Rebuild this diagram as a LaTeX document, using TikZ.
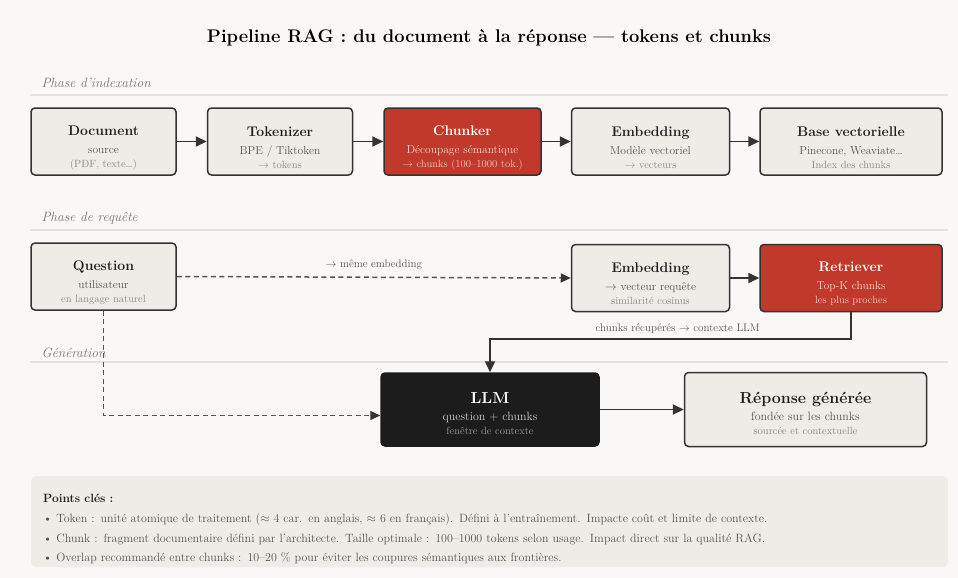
\documentclass[tikz,border=0pt]{standalone}
\usepackage{fontspec}
\usepackage{xcolor}
\usetikzlibrary{positioning,arrows.meta}
\definecolor{panelbg}{HTML}{F9F8F6}
\definecolor{boxfill}{HTML}{EFECE8}
\definecolor{boxline}{HTML}{333333}
\definecolor{ragred}{HTML}{C0392B}
\definecolor{llmblack}{HTML}{1C1C1C}
\definecolor{inkdark}{HTML}{1F1F1F}
\definecolor{subgray}{HTML}{555555}
\definecolor{faintgray}{HTML}{8A8A8A}
\definecolor{redsub}{HTML}{F6D5D0}
\definecolor{redfaint}{HTML}{F0C2BC}
\definecolor{llmsub}{HTML}{CFCFCF}
\definecolor{llmfaint}{HTML}{9A9A9A}
\definecolor{rulegray}{HTML}{E6E3DF}
\definecolor{phasegray}{HTML}{777777}
\newcommand{\boxlabel}[5]{{\bfseries\fontsize{14}{16}\selectfont\rule{0pt}{22pt}#1}\\[6pt]%
  {\color{#4}\fontsize{11.5}{13}\selectfont #2}\\[2pt]%
  {\color{#5}\fontsize{10.5}{12}\selectfont #3}}
\newcommand{\genlabel}[5]{{\bfseries\fontsize{16}{18}\selectfont\rule{0pt}{20pt}#1}\\[5pt]%
  {\color{#4}\fontsize{12}{14}\selectfont #2}\\[2pt]%
  {\color{#5}\fontsize{10.5}{12}\selectfont #3}}

\begin{document}
\begin{tikzpicture}[x=1pt,y=-1pt,
    stagebox/.style={rectangle, rounded corners=4pt, draw=boxline, fill=boxfill, line width=1.5pt,
      minimum height=67pt, align=center, inner sep=1pt, text=inkdark},
    hotbox/.style={stagebox, fill=ragred, text=white},
    llmbox/.style={stagebox, fill=llmblack, draw=llmblack, text=white},
    phase/.style={anchor=west, font=\itshape\fontsize{13.5}{15}\selectfont, text=phasegray},
    flow/.style={draw=boxline, line width=1.8pt, -{Triangle[length=11pt,width=10pt]}},
    dashflow/.style={draw=subgray, line width=1.5pt, dash pattern=on 5pt off 3.5pt, -{Triangle[length=10pt,width=9pt,color=boxline]}},
    edgelabel/.style={font=\fontsize{11}{13}\selectfont, text=subgray},
    ]
    \useasboundingbox (0,0) rectangle (958,578);
    \fill[panelbg] (0,0) rectangle (958,578);

    %Title
    \node (title) at (489,38) {\bfseries\fontsize{18.3}{21}\selectfont Pipeline RAG : du document à la réponse — tokens et chunks};

    %Phases
    \node[phase] (ph1) at (38,83) {Phase d'indexation};
    \node[phase] (ph2) at (38,218) {Phase de requête};
    \node[phase] (ph3) at (38,353) {Génération};
    \draw[rulegray, line width=1.5pt] (30,95) -- (948,95);
    \draw[rulegray, line width=1.5pt] (30,230) -- (948,230);
    \draw[rulegray, line width=1.5pt] (30,362) -- (948,362);

    %Nodes
    \node[stagebox, minimum width=145pt] (doc) at (103.5,141.5)
      {\boxlabel{Document}{source}{(PDF, texte…)}{subgray}{faintgray}};
    \node[stagebox, minimum width=145pt] (tok) [right=30pt of doc]
      {\boxlabel{Tokenizer}{BPE / Tiktoken}{$\rightarrow$ tokens}{subgray}{faintgray}};
    \node[hotbox, minimum width=157pt] (chunk) [right=30pt of tok]
      {\boxlabel{Chunker}{Découpage sémantique}{$\rightarrow$ chunks (100–1000 tok.)}{redsub}{redfaint}};
    \node[stagebox, minimum width=158pt] (emb) [right=29pt of chunk]
      {\boxlabel{Embedding}{Modèle vectoriel}{$\rightarrow$ vecteurs}{subgray}{faintgray}};
    \node[stagebox, minimum width=182pt] (base) [right=29pt of emb]
      {\boxlabel{Base vectorielle}{Pinecone, Weaviate…}{Index des chunks}{subgray}{faintgray}};

    \node[stagebox, minimum width=145pt] (quest) at (103.5,276.5)
      {\boxlabel{Question}{utilisateur}{en langage naturel}{subgray}{faintgray}};
    \node[stagebox, minimum width=158pt] (emb2) [below=68pt of emb]
      {\boxlabel{Embedding}{$\rightarrow$ vecteur requête}{similarité cosinus}{subgray}{faintgray}};
    \node[hotbox, minimum width=182pt] (retr) [right=29pt of emb2]
      {\boxlabel{Retriever}{Top-K chunks}{les plus proches}{redsub}{redfaint}};

    \node[llmbox, minimum width=218pt, minimum height=73pt] (llm) at (490,409.5)
      {\genlabel{LLM}{question + chunks}{fenêtre de contexte}{llmsub}{llmfaint}};
    \node[stagebox, minimum width=242pt, minimum height=74pt] (rep) [right=84pt of llm]
      {\genlabel{Réponse générée}{fondée sur les chunks}{sourcée et contextuelle}{subgray}{faintgray}};

    %Key points
    \fill[boxfill, rounded corners=5pt] (31,476) rectangle (948,567);
    \node[anchor=north west, text width=890pt, align=left, inner sep=0pt,
      font=\fontsize{12}{19.7}\selectfont, text=subgray] (keys) at (43,494)
      {{\bfseries\color{inkdark}Points clés :}\\
       \textbullet{} Token : unité atomique de traitement ($\approx$ 4 car. en anglais, $\approx$ 6 en français). Défini à l'entraînement. Impacte coût et limite de contexte.\\
       \textbullet{} Chunk : fragment documentaire défini par l'architecte. Taille optimale : 100–1000 tokens selon usage. Impact direct sur la qualité RAG.\\
       \textbullet{} Overlap recommandé entre chunks : 10–20 \% pour éviter les coupures sémantiques aux frontières.};

    %Lines
    \draw[flow] (doc.east) -- (tok.west);
    \draw[flow] (tok.east) -- (chunk.west);
    \draw[flow] (chunk.east) -- (emb.west);
    \draw[flow] (emb.east) -- (base.west);
    \draw[dashflow] (quest.east) -- node[above=3pt, edgelabel] (samelbl) {$\rightarrow$ même embedding} (emb2.west);
    \draw[flow] (emb2.east) -- (retr.west);
    \draw[flow] (retr.south) -- ++(0,27) -| node[pos=0.24, above=1pt, edgelabel] (ctxlbl) {chunks récupérés $\rightarrow$ contexte LLM} (llm.north);
    \draw[dashflow] (quest.south) |- ([yshift=-6pt]llm.west);
    \draw[flow] (llm.east) -- (rep.west);
\end{tikzpicture}
\end{document}
